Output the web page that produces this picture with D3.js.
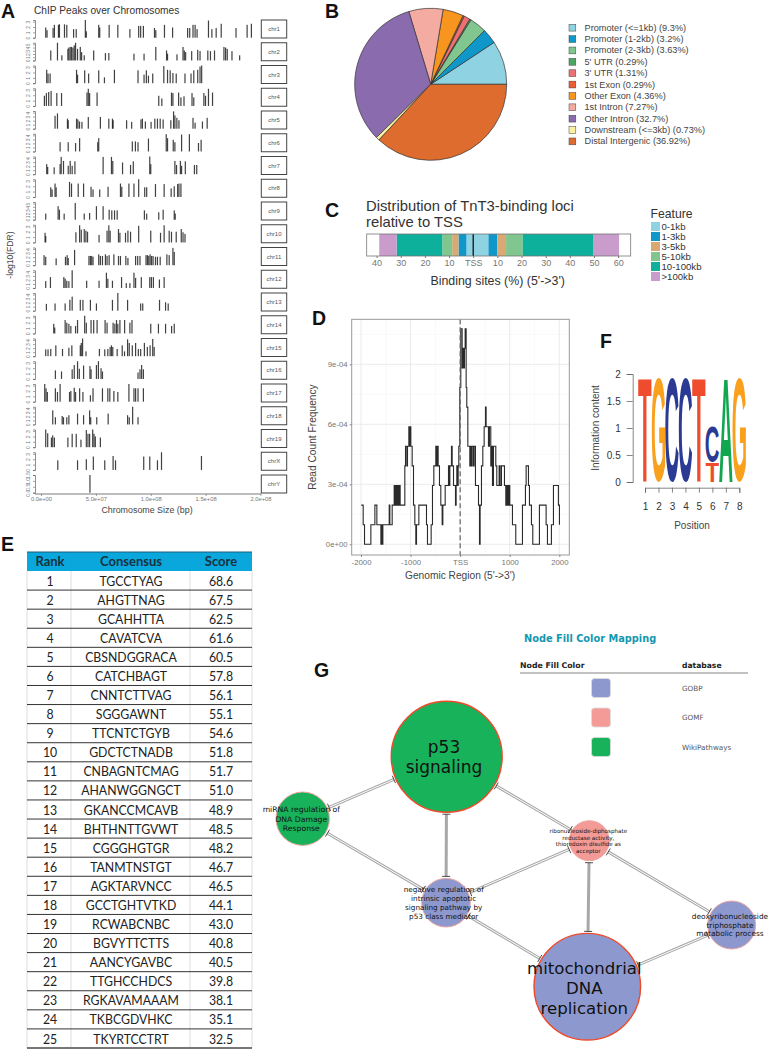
<!DOCTYPE html>
<html>
<head>
<meta charset="utf-8">
<script src="https://cdn.jsdelivr.net/npm/d3@7/dist/d3.min.js"></script>
<style>
body { margin: 0; background: #fff; }
svg, svg .tick text { font-family: "Liberation Sans", sans-serif; }
svg { display: block; }
</style>
</head>
<body>
<svg id="fig" width="768" height="1050"></svg>
<script>
// ---- panel A: peak position (Mb), -log10(FDR)
const chromNames = ["chr1","chr2","chr3","chr4","chr5","chr6","chr7","chr8","chr9","chr10","chr11","chr12","chr13","chr14","chr15","chr16","chr17","chr18","chr19","chrX","chrY"];
const chromMax = [3.3,5.5,3.3,3.3,4.4,4.4,4.4,3.3,5.5,3.3,4.4,4.4,4.4,3.3,4.4,3.3,3.3,4.4,3.3,3.3,1.5];
const sizeTicks = [0,50,100,150,200];
const sizeTickLabels = ["0.0e+00","5.0e+07","1.0e+08","1.5e+08","2.0e+08"];
const chr1Peaks = [[4.3,1.9],[5.5,1.4],[11,1.8],[12.2,2.4],[15.9,2.4],[16.8,2.5],[21.4,2.5],[23.5,2.4],[29.7,1.6],[32.1,1.6],[40.4,3.3],[41.3,1.2],[52.6,2.4],[53.5,1.9],[62.1,2.4],[70,2.4],[81,1.6],[89,2.2],[90.8,2.2],[93.3,2.2],[103.4,1.8],[104.6,1.4],[112.5,2.4],[119.9,1.9],[133.6,1.8],[135.5,1.8],[138.5,2.4],[140.4,2.4],[142.2,1.6],[152.6,3.2],[155.7,1.6],[159.6,1.8],[164.2,2.6],[177.7,1.8],[187.8,2.4],[191.7,2.6]];
const chr2Peaks = [[8.9,3.1],[15,5.5],[19,1.6],[24.5,3.6],[25.4,4],[26.6,4.2],[27.8,4.2],[29.1,4],[30.3,4.7],[31.5,5.5],[33.3,3.6],[35.8,4.2],[37,2.6],[39.4,1.6],[48,3.1],[58.7,2.3],[61.8,2.3],[84.7,2.1],[93.9,2.1],[104.6,4.2],[114.4,3.1],[115.3,2.1],[123.9,1.9],[129.4,4.2],[130.6,3.1],[131.8,2.6],[137.3,2.9],[142.8,3.3],[144.9,2.9],[152,3.1],[154.4,2.9],[158.1,3.1],[166.7,4.2],[168.2,4],[169.7,3.6],[174,2.9],[181,1.6]];
const chr3Peaks = [[5.2,2.5],[6.4,1.8],[8.3,1.8],[32.4,2.5],[33.3,1.6],[39.8,2.4],[43.4,1.8],[52.6,2.4],[57.8,1.1],[66.9,2.5],[88.4,2.4],[93.9,1.6],[96,2.4],[97.9,1.4],[101.8,1.8],[111.9,3.2],[115.3,2.5],[117.7,2.4],[120.2,1.9],[123.2,1.8],[131.2,1.8],[136.7,1.8],[139.2,2.4],[142.8,2.5],[144.9,3.1],[146.4,3.3]];
const chr4Peaks = [[3.1,1.9],[4.9,2.4],[7,2.6],[9.2,2.8],[14.4,2.4],[18.7,2.4],[41.9,2.5],[43.1,3.2],[44.3,2.4],[51.1,2.5],[107.3,1.9],[110.1,1.4],[118.9,2.5],[120.2,2.4],[125.4,2.5],[127.5,1.6],[130.3,1.8],[137.6,2.4],[139.2,1.6],[148.4,2.4],[149.9,1.9],[152.6,3.2],[156.3,2.5]];
const chr5Peaks = [[12.8,3.2],[15,3.8],[24.1,2.5],[24.8,2.1],[32.4,2.5],[33.6,2.3],[35.1,1.8],[37.3,1.7],[43.1,2.9],[54.1,2.9],[61.8,2.5],[65.1,2.5],[65.7,2.1],[78,2.1],[82.6,1.7],[91.1,2.3],[92.4,2.5],[95.1,1.8],[100.3,1.7],[103.7,2.5],[106.1,2.5],[108.6,2.5],[111.3,2.3],[118.3,2.1],[120.8,4.3],[122,3.3],[123.8,2.7],[125.7,2.1],[138.5,2.7],[140.4,1.5],[147.1,1.8],[151.4,2.7]];
const chr6Peaks = [[17.4,2.3],[24.8,2.3],[31.5,2.1],[35.2,3.3],[51.7,2.3],[52.6,3.3],[83.2,2.5],[86,2.5],[88.4,2.3],[97.9,3.2],[114.1,4.3],[115.3,3.3],[120.5,2.9],[122,2.3],[128.1,4.2],[135.2,4.3],[143.5,2.1],[145.9,2.9]];
const chr7Peaks = [[5.2,2.5],[6.1,1.8],[12,1.7],[17.4,2.5],[18.4,4.3],[20.5,3.3],[24.8,2.1],[26.6,3.3],[28.4,2.1],[30.9,3.2],[56.6,4.3],[64.2,4.3],[65.4,3.3],[74.3,2.9],[81.6,2.3],[84.1,3.2],[99.1,4.4],[100,2.5],[122,3.3],[123.5,2.3],[127,3.3],[128.1,2.1],[131.5,3.2],[139.8,2.3],[141.9,2.3]];
const chr8Peaks = [[8.9,1.8],[10.1,1.4],[12.8,2.5],[13.8,1.8],[26,2.8],[27.8,2.5],[33.9,2.5],[38.8,2.5],[45.6,1.9],[47.4,1.4],[53.5,1.4],[61.1,1.9],[72.4,2.5],[73.6,1.9],[80.1,2.5],[84.7,2.5],[89,3.3],[94.5,1.8],[96.3,1.8],[104.3,2.4],[112.2,2.4],[118.6,1.6],[121.4,2],[124.5,2.4],[125.7,2.5],[127.5,2.5]];
const chr9Peaks = [[4.3,1.9],[15.6,4.2],[16.8,3.1],[21.1,1.9],[31.2,5.2],[39.4,1.9],[44.3,2.1],[50.5,4.2],[56.6,4.2],[62.1,3.1],[64.5,2.9],[67,2.9],[69.4,2.9],[94.2,2.9],[96.3,1.9],[107.3,2.3],[111.3,3.1],[121.4,2.9],[122.3,1.9]];
const chr10Peaks = [[3.7,1.8],[4.3,1.2],[31.8,1.9],[35.2,3.2],[36.7,2.4],[39.4,2.5],[40.9,2.2],[42.4,2],[52.9,1.4],[60.2,2.2],[61.8,3.2],[63,2.2],[70.6,2.5],[71.9,1.8],[77,1.8],[79.2,2.2],[81.6,2],[89,3.1],[100,2.2],[108.9,1.8],[112.2,3.2],[116.8,2.2],[118.9,2],[123.2,2],[127.8,2.5],[129.4,1.9],[131.2,1.6]];
const chr11Peaks = [[2.8,2.5],[4.3,2.1],[13.8,1.7],[22.3,2.1],[23.8,2.5],[24.8,1.8],[30.6,3.8],[43.7,2.3],[45,2.3],[46.2,2.3],[47.4,2.1],[52.6,2.7],[54.1,2.3],[56,2.3],[58.7,2.7],[60.2,2.3],[62.1,2.5],[66.4,2.7],[70.6,2.3],[72.4,2.3],[77.3,2.3],[79.2,1.8],[86.2,2.3],[88.1,2.3],[90.2,2.3],[95.7,2.5],[97,2.5],[98.2,2.3],[99.4,2.7],[100.7,2.3],[102.1,2.3],[104.3,2.1],[106.1,2.1],[108.6,2.1],[114.7,2.7],[116.8,2.5],[120.2,4.3],[121.4,3.3]];
const chr12Peaks = [[4.3,1.7],[8.6,2.7],[20.8,2.7],[22,2.3],[23.5,1.8],[25.4,1.7],[28.4,4.4],[41.6,1.8],[52.9,1.8],[59.6,3.8],[60.9,2.3],[65.1,1.8],[73.4,2.7],[77.7,1.2],[81,1.2],[84.7,3.8],[86.2,2.5],[91.4,2.7],[99.1,2.7],[100.6,2.7],[102.4,2.7],[107.9,2.1],[112.2,2.7]];
const chr13Peaks = [[4.9,1.7],[12.8,1.8],[22,1.8],[26.3,2.7],[28.4,3.5],[35.8,2.7],[38.2,2.7],[45,2.7],[50.5,1.8],[65.1,2.7],[70,4.4],[78.9,2.7],[90.8,1.8],[92.7,1.8],[108,2.7],[113.5,2.1],[115.9,1.8]];
const chr14Peaks = [[11.6,1.8],[12.5,1.1],[22,2.5],[23.5,2],[25.4,1.8],[27.2,1.4],[31.5,1.4],[33.3,2.5],[39.8,3.3],[41.3,2],[45.6,2.5],[48,2.5],[51.1,2.5],[58.4,2.5],[60.2,2],[65.7,2],[67.3,1.8],[68.8,2.5],[70,1.8],[71.9,2.5],[76.2,2.5],[81,2],[82.9,2.5],[100,1.8],[107,1.8],[113.5,1.8],[119,1.4],[121.4,1.8]];
const chr15Peaks = [[4.3,1.7],[6.4,1.7],[8.9,1.8],[13.5,2.7],[19.6,1.8],[25.4,2.1],[28.1,2.7],[35.8,2.7],[36.7,3.3],[37.9,4.4],[41,1.2],[53.2,1.8],[58.1,1.7],[60.9,1.8],[63,2.3],[64.2,2.7],[65.4,2.3],[69.4,1.8],[74,2.7],[76.1,1.2],[78.9,4.2],[80.4,3.3],[83.2,2.7],[86.2,3.3],[88.7,1.8],[90.8,1.8],[94.2,3.3],[96.9,2.3],[99.4,2.7],[101.8,4.3],[103.1,2.3]];
const chr16Peaks = [[13.1,1.6],[18.7,1.4],[28.4,1.8],[30.3,2.6],[33.3,3.3],[34.9,1.9],[38.8,2.5],[44.6,2.4],[45.6,1.8],[50.5,2.6],[52.3,3.3],[54.7,2],[56,1.4],[88.4,1.2],[90.2,1.8],[91.7,2.6],[93.3,1.8]];
const chr17Peaks = [[3.4,3.3],[4.6,2.5],[5.8,1.8],[13.1,2.5],[15,1.8],[17.4,3.3],[26,1.8],[27.2,2],[30.3,2.6],[31.5,1.8],[35.2,2.5],[38.2,1.8],[45,1.2],[47.4,2.5],[56,2.5],[60.9,2.5],[62.7,2.5],[66.4,2],[70,1.8],[80.1,3.3],[84.7,2.5],[86.2,2.5],[88.4,2.5],[93.3,2.5]];
const chr18Peaks = [[10.7,3.5],[13.1,1.8],[19.3,2.1],[20.5,1.8],[23.5,1.8],[25.4,2.3],[33.3,2.7],[38.8,2.3],[44.3,3.5],[45.3,1.8],[50.8,1.8],[61.2,2.7],[78.9,2.3],[80.4,1.8],[83.5,4.4],[88.4,1.8]];
const chr19Peaks = [[4.3,3.3],[6.1,2.6],[9.5,1.8],[10.7,2.2],[12.2,1.8],[24.5,1.8],[28.4,2.5],[32.1,2.5],[36.4,1.4],[41.3,3.2],[42.8,2.5],[44.3,2.5],[47.1,3.3],[48.3,2.5],[49.5,2],[54.1,1.8]];
const chrXPeaks = [[15.3,1.8],[33.3,1.8],[41.3,2],[47.7,2.5],[58.1,1.8],[65.7,2.6],[67.9,1.8],[93.6,2.5],[99.1,2.5],[106.1,1.8],[109.8,3.3],[146.2,2.6]];
const chrYPeaks = [[44.6,1.5]];
const allPeaks = [chr1Peaks,chr2Peaks,chr3Peaks,chr4Peaks,chr5Peaks,chr6Peaks,chr7Peaks,chr8Peaks,chr9Peaks,chr10Peaks,chr11Peaks,chr12Peaks,chr13Peaks,chr14Peaks,chr15Peaks,chr16Peaks,chr17Peaks,chr18Peaks,chr19Peaks,chrXPeaks,chrYPeaks];

// ---- panel B
const pieLabels = ["Promoter (<=1kb) (9.3%)","Promoter (1-2kb) (3.2%)","Promoter (2-3kb) (3.63%)","5' UTR (0.29%)","3' UTR (1.31%)","1st Exon (0.29%)","Other Exon (4.36%)","1st Intron (7.27%)","Other Intron (32.7%)","Downstream (<=3kb) (0.73%)","Distal Intergenic (36.92%)"];
const pieValues = [9.3,3.2,3.63,0.29,1.31,0.29,4.36,7.27,32.7,0.73,36.92];
const pieColors = ["#8fd3e3","#0f97c9","#80c68e","#4fa564","#ef7070","#ee5c33","#f7951e","#f4aba2","#8a6bae","#fbf2a0","#dd6c2e"];

// ---- panel C: percentages outward from the TSS
const featureNames = ["0-1kb","1-3kb","3-5kb","5-10kb","10-100kb",">100kb"];
const featureColors = ["#8fd3e3","#0f97c9","#d9a873","#80c68e","#0db09b","#c99ccc"];
const upstreamPct = [2.8,3.3,2.6,4.1,18.9,7.2];
const downstreamPct = [6.3,3.7,3.6,6.9,29.1,10.8];
const tssTicks = [-40,-30,-20,-10,0,10,20,30,40,50,60];
const tssTickLabels = ["40","30","20","10","TSS","10","20","30","40","50","60"];

// ---- panel D: genomic position, reads at that position
const freqPerRead = 0.98e-4;
const coverage = [[-1996,2],[-1956,1],[-1929,0],[-1801,1],[-1720,2],[-1680,1],[-1599,0],[-1586,1],[-1572,0],[-1559,1],[-1431,2],[-1418,1],[-1371,2],[-1331,3],[-1317,2],[-1304,3],[-1290,2],[-1277,3],[-1263,2],[-1250,3],[-1236,2],[-1223,3],[-1210,2],[-1116,4],[-1102,5],[-1075,4],[-1062,5],[-1035,6],[-1021,5],[-1008,6],[-995,5],[-968,4],[-941,2],[-914,1],[-894,0],[-880,1],[-833,2],[-679,1],[-659,0],[-585,1],[-558,3],[-531,4],[-491,5],[-477,4],[-464,5],[-444,4],[-417,3],[-390,2],[-363,1],[-349,2],[-302,3],[-235,4],[-222,3],[-208,4],[-175,5],[-161,4],[-134,3],[-94,2],[-81,3],[-67,4],[-54,3],[-40,4],[-27,5],[-7,8],[13,11],[40,9],[60,10],[74,9],[87,10],[101,11],[121,8],[134,7],[155,5],[195,4],[208,5],[222,4],[242,5],[269,4],[282,5],[309,3],[370,2],[390,0],[403,2],[430,4],[457,5],[484,6],[511,7],[524,6],[571,5],[591,6],[618,4],[638,5],[652,3],[672,5],[719,4],[739,3],[786,4],[806,3],[833,4],[894,3],[921,2],[934,3],[948,2],[961,3],[974,2],[988,3],[1001,2],[1055,1],[1122,0],[1257,2],[1317,3],[1331,4],[1378,3],[1398,2],[1438,1],[1465,0],[1599,2],[1734,1],[1761,0],[1841,1],[1882,3],[1982,2],[2003,1]];
const regionTicks = [-2000,-1000,0,1000,2000];
const regionTickLabels = ["-2000","-1000","TSS","1000","2000"];
const freqTicks = [0,3e-4,6e-4,9e-4];
const freqTickLabels = ["0e+00","3e-04","6e-04","9e-04"];

// ---- panel E
const motifRanks = d3.range(1,26);
const motifConsensus = ["TGCCTYAG","AHGTTNAG","GCAHHTTA","CAVATCVA","CBSNDGGRACA","CATCHBAGT","CNNTCTTVAG","SGGGAWNT","TTCNTCTGYB","GDCTCTNADB","CNBAGNTCMAG","AHANWGGNGCT","GKANCCMCAVB","BHTHNTTGVWT","CGGGHGTGR","TANMTNSTGT","AGKTARVNCC","GCCTGHTVTKD","RCWABCNBC","BGVYTTCTTS","AANCYGAVBC","TTGHCCHDCS","RGKAVAMAAAM","TKBCGDVHKC","TKYRTCCTRT"];
const motifScores = ["68.6","67.5","62.5","61.6","60.5","57.8","56.1","55.1","54.6","51.8","51.7","51.0","48.9","48.5","48.2","46.7","46.5","44.1","43.0","40.8","40.5","39.8","38.1","35.1","32.5"];

// ---- panel F
const logoLetters = [["T"],["G"],["C"],["C"],["T"],["T","C"],["A"],["G"]];
const logoBits = [[1.92],[1.92],[1.92],[1.92],[1.92],[0.37,0.65],[1.92],[1.92]];
const logoColors = {T:"#ee4c2c", G:"#f9a11d", C:"#2b3a92", A:"#13a651"};

// ---- panel G
const netNodes = [
  {id:"p53", lines:["p53","signaling"], db:"WikiPathways"},
  {id:"mirna", lines:["miRNA regulation of","DNA Damage","Response"], db:"WikiPathways"},
  {id:"neg", lines:["negative regulation of","intrinsic apoptotic","signaling pathway by","p53 class mediator"], db:"GOBP"},
  {id:"ribo", lines:["ribonucleoside-diphosphate","reductase activity,","thioredoxin disulfide as","acceptor"], db:"GOMF"},
  {id:"deoxy", lines:["deoxyribonucleoside","triphosphate","metabolic process"], db:"GOBP"},
  {id:"mito", lines:["mitochondrial","DNA","replication"], db:"GOBP"}
];
const netEdges = [["p53","mirna"],["mirna","neg"],["p53","neg"],["neg","ribo"],["p53","ribo"],["ribo","mito"],["ribo","deoxy"],["neg","mito"],["deoxy","mito"]];
const netDatabases = ["GOBP","GOMF","WikiPathways"];
const dbColors = {GOBP:"#8d99ce", GOMF:"#f49a97", WikiPathways:"#17b25a"};

const svg = d3.select("#fig");

function panelLetter(txt, x, y){
  svg.append("text").attr("x",x).attr("y",y).text(txt)
    .style("font-weight",700).style("font-size","19.5px").attr("fill","#111");
}
panelLetter("A",1,18); panelLetter("B",325,18); panelLetter("C",325,217); panelLetter("D",312,325);
panelLetter("E",1,551); panelLetter("F",600,348); panelLetter("G",314,677);

// ---------- A
const renderPeaks = function(){
  let g = svg.append("g");
  let xScale = d3.scaleLinear().domain([0,200]).range([41,260.5]);
  g.append("text").attr("x",34).attr("y",14).text("ChIP Peaks over Chromosomes")
    .style("font-size","10.2px").attr("fill","#333");
  chromNames.forEach(function(name,i){
    let base = 37.7 + i*22.75;
    let yScale = d3.scaleLinear().domain([0,chromMax[i]]).range([base,base-17.7]);
    g.selectAll(null).data(allPeaks[i]).enter().append("rect")
      .attr("x",function(d){ return xScale(d[0])-0.6 })
      .attr("width",1.2)
      .attr("y",function(d){ return yScale(d[1]) })
      .attr("height",function(d){ return base-yScale(d[1]) })
      .attr("fill","#111").attr("fill-opacity",0.8);
    let ticks = name=="chrY" ? [0,0.5,1,1.5] : d3.range(0,Math.floor(chromMax[i])+1);
    let ax = g.append("g").attr("transform","translate(35,0)")
      .call(d3.axisLeft(yScale).tickValues(ticks).tickSize(2).tickPadding(1)
        .tickFormat(name=="chrY" ? d3.format(".1f") : d3.format("d")));
    ax.select(".domain").attr("stroke","#444").attr("stroke-width",0.6);
    ax.selectAll(".tick line").attr("stroke","#444").attr("stroke-width",0.5);
    ax.selectAll("text").attr("transform","rotate(-90)").attr("x",0).attr("y",-5.5).attr("dy",0)
      .style("text-anchor","middle").style("font-size","5px").attr("fill","#777");
    g.append("rect").attr("x",261.3).attr("y",base-17.7).attr("width",25.4).attr("height",18)
      .attr("fill","#fff").attr("stroke","#444").attr("stroke-width",1);
    g.append("text").attr("x",274).attr("y",base-6.5).attr("text-anchor","middle").text(name)
      .style("font-size","6px").attr("fill","#555");
  });
  let xax = g.append("g").attr("transform","translate(0,494)")
    .call(d3.axisBottom(xScale).tickValues(sizeTicks).tickSize(2).tickPadding(1)
      .tickFormat(function(d,i){ return sizeTickLabels[i] }));
  xax.select(".domain").remove();
  xax.selectAll(".tick line").attr("stroke","#444").attr("stroke-width",0.5);
  xax.selectAll("text").style("font-size","5.8px").attr("fill","#777");
  g.append("line").attr("x1",35).attr("x2",261).attr("y1",494).attr("y2",494).attr("stroke","#444").attr("stroke-width",0.7);
  g.append("text").attr("x",147).attr("y",513).attr("text-anchor","middle").text("Chromosome Size (bp)")
    .style("font-size","8.9px").attr("fill","#444");
  g.append("text").attr("transform","translate(13,255) rotate(-90)").attr("text-anchor","middle").text("-log10(FDR)")
    .style("font-size","8.6px").attr("fill","#444");
};

// ---------- B
const renderPie = function(){
  let g = svg.append("g").attr("transform","translate(430.7,84.3)");
  // counter-clockwise from 3 o'clock
  let pie = d3.pie().sort(null).startAngle(Math.PI/2).endAngle(Math.PI/2-2*Math.PI);
  let arc = d3.arc().innerRadius(0).outerRadius(76);
  g.selectAll("path").data(pie(pieValues)).enter().append("path")
    .attr("d",arc)
    .attr("fill",function(d,i){ return pieColors[i] })
    .attr("stroke","#333").attr("stroke-width",0.7);
  let lg = svg.append("g");
  let yScale = d3.scalePoint().domain(pieLabels).range([27.7,141.4]);
  lg.selectAll("rect").data(pieLabels).enter().append("rect")
    .attr("x",569).attr("y",function(d){ return yScale(d)-3.4 })
    .attr("width",6.8).attr("height",6.8)
    .attr("fill",function(d,i){ return pieColors[i] })
    .attr("stroke","#444").attr("stroke-width",0.5);
  lg.selectAll("text").data(pieLabels).enter().append("text")
    .attr("x",584.5).attr("y",function(d){ return yScale(d)+3 }).text(function(d){ return d })
    .style("font-size","9.2px").attr("fill","#444");
};

// ---------- C
const renderTss = function(){
  let g = svg.append("g");
  g.append("text").attr("x",366).attr("y",211).text("Distribution of TnT3-binding loci").style("font-size","14.8px").attr("fill","#333");
  g.append("text").attr("x",366).attr("y",227).text("relative to TSS").style("font-size","14.8px").attr("fill","#333");
  let xScale = d3.scaleLinear().domain([-44.1,65.2]).range([366.7,630.7]);
  let top = 234, h = 22;
  g.append("rect").attr("x",366.7).attr("y",top).attr("width",264).attr("height",h).attr("fill","#fff");
  let up = d3.cumsum(upstreamPct), down = d3.cumsum(downstreamPct);
  featureNames.forEach(function(f,i){
    let a = i==0 ? 0 : up[i-1], b = i==0 ? 0 : down[i-1];
    g.append("rect").attr("x",xScale(-up[i])).attr("y",top).attr("width",xScale(-a)-xScale(-up[i])).attr("height",h).attr("fill",featureColors[i]);
    g.append("rect").attr("x",xScale(b)).attr("y",top).attr("width",xScale(down[i])-xScale(b)).attr("height",h).attr("fill",featureColors[i]);
  });
  g.append("line").attr("x1",xScale(0)).attr("x2",xScale(0)).attr("y1",top).attr("y2",top+h).attr("stroke","#111").attr("stroke-width",1.3);
  g.append("rect").attr("x",366.7).attr("y",top).attr("width",264).attr("height",h).attr("fill","none").attr("stroke","#777").attr("stroke-width",0.8);
  let ax = g.append("g").attr("transform","translate(0,"+(top+h)+")")
    .call(d3.axisBottom(xScale).tickValues(tssTicks).tickSize(2).tickPadding(2)
      .tickFormat(function(d,i){ return tssTickLabels[i] }));
  ax.select(".domain").remove();
  ax.selectAll(".tick line").attr("stroke","#777");
  ax.selectAll("text").style("font-size","9px").attr("fill","#777");
  g.append("text").attr("x",497.7).attr("y",285).attr("text-anchor","middle").text("Binding sites (%) (5'->3')")
    .style("font-size","12.4px").attr("fill","#333");
  g.append("text").attr("x",650.5).attr("y",218).text("Feature").style("font-size","12.2px").attr("fill","#333");
  featureNames.forEach(function(f,i){
    g.append("rect").attr("x",651).attr("y",222+i*10).attr("width",9).attr("height",9).attr("fill",featureColors[i]);
    g.append("text").attr("x",661.5).attr("y",230+i*10).text(f).style("font-size","9.6px").attr("fill","#333");
  });
};

// ---------- D
const renderCoverage = function(){
  let g = svg.append("g");
  let xScale = d3.scaleLinear().domain([-2000,2000]).range([361,559.3]);
  let yScale = d3.scaleLinear().domain([0,9e-4]).range([544.3,364.3]);
  let left = 351.7, right = 569.3, top = 319.3, bottom = 555;
  d3.range(-1500,2000,1000).forEach(function(v){
    g.append("line").attr("x1",xScale(v)).attr("x2",xScale(v)).attr("y1",top).attr("y2",bottom).attr("stroke","#f2f2f2").attr("stroke-width",0.5);
  });
  [1.5e-4,4.5e-4,7.5e-4,10.5e-4].forEach(function(v){
    g.append("line").attr("x1",left).attr("x2",right).attr("y1",yScale(v)).attr("y2",yScale(v)).attr("stroke","#f2f2f2").attr("stroke-width",0.5);
  });
  regionTicks.forEach(function(v){
    g.append("line").attr("x1",xScale(v)).attr("x2",xScale(v)).attr("y1",top).attr("y2",bottom).attr("stroke","#e6e6e6").attr("stroke-width",0.8);
  });
  freqTicks.forEach(function(v){
    g.append("line").attr("x1",left).attr("x2",right).attr("y1",yScale(v)).attr("y2",yScale(v)).attr("stroke","#e6e6e6").attr("stroke-width",0.8);
  });
  let line = d3.line().curve(d3.curveStepAfter)
    .x(function(d){ return xScale(d[0]) })
    .y(function(d){ return yScale(d[1]*freqPerRead) });
  g.append("path").datum(coverage).attr("d",line).attr("fill","none").attr("stroke","#2a2a2a").attr("stroke-width",1.1);
  g.append("line").attr("x1",xScale(0)).attr("x2",xScale(0)).attr("y1",top).attr("y2",bottom)
    .attr("stroke","#666").attr("stroke-width",1.2).attr("stroke-dasharray","5,3");
  g.append("rect").attr("x",left).attr("y",top).attr("width",right-left).attr("height",bottom-top)
    .attr("fill","none").attr("stroke","#999").attr("stroke-width",1);
  let xa = g.append("g").attr("transform","translate(0,555)")
    .call(d3.axisBottom(xScale).tickValues(regionTicks).tickSize(2).tickPadding(2)
      .tickFormat(function(d,i){ return regionTickLabels[i] }));
  xa.select(".domain").remove();
  xa.selectAll(".tick line").attr("stroke","#888");
  xa.selectAll("text").style("font-size","7.8px").attr("fill","#777");
  let ya = g.append("g").attr("transform","translate(351.7,0)")
    .call(d3.axisLeft(yScale).tickValues(freqTicks).tickSize(2).tickPadding(2)
      .tickFormat(function(d,i){ return freqTickLabels[i] }));
  ya.select(".domain").remove();
  ya.selectAll(".tick line").attr("stroke","#888");
  ya.selectAll("text").style("font-size","7.8px").attr("fill","#777");
  g.append("text").attr("x",460).attr("y",579).attr("text-anchor","middle").text("Genomic Region (5'->3')")
    .style("font-size","10.2px").attr("fill","#444");
  g.append("text").attr("transform","translate(316,437) rotate(-90)").attr("text-anchor","middle").text("Read Count Frequency")
    .style("font-size","10.2px").attr("fill","#444");
};

// ---------- E
const renderTable = function(){
  let g = svg.append("g").style("font-family","Lato");
  let left = 27, right = 252, headTop = 552, headBottom = 571, rowH = 19.08;
  let rowY = d3.scaleBand().domain(motifRanks).range([headBottom,headBottom+25*rowH]);
  g.append("rect").attr("x",left).attr("y",headTop).attr("width",right-left).attr("height",headBottom-headTop).attr("fill","#0aa7dd");
  g.append("line").attr("x1",left).attr("x2",right).attr("y1",headTop).attr("y2",headTop).attr("stroke","#1c5f7a").attr("stroke-width",1);
  [["Rank",50],["Consensus",131],["Score",221]].forEach(function(c){
    g.append("text").attr("x",c[1]).attr("y",headBottom-5).attr("text-anchor","middle").text(c[0])
      .style("font-size","13px").style("font-weight",700).attr("fill","#17313e");
  });
  [left,71,190,right].forEach(function(x){
    g.append("line").attr("x1",x).attr("x2",x).attr("y1",headBottom).attr("y2",1048).attr("stroke","#d4d4d4").attr("stroke-width",0.8);
  });
  motifRanks.forEach(function(r,i){
    let y = rowY(r);
    g.append("line").attr("x1",left).attr("x2",right).attr("y1",y+rowH).attr("y2",y+rowH)
      .attr("stroke",i==24 ? "#777" : "#333").attr("stroke-width",i==24 ? 2 : 1);
    [[r,50],[motifConsensus[i],131],[motifScores[i],221]].forEach(function(c){
      // Lato runs wider than the table's font, so squeeze it a little
      g.append("text").attr("transform","translate("+c[1]+","+(y+14.6)+") scale(0.93,1)").attr("text-anchor","middle").text(c[0])
        .style("font-size","13.2px").attr("fill","#222");
    });
  });
};

// ---------- F
const renderLogo = function(){
  let g = svg.append("g");
  let xScale = d3.scalePoint().domain(d3.range(1,9)).range([645,739.3]);
  let yScale = d3.scaleLinear().domain([0,2]).range([482,374]);
  let ctx = document.createElement("canvas").getContext("2d");
  ctx.font = "bold 100px 'Liberation Sans'";
  let letterW = 13.4;
  logoLetters.forEach(function(col,i){
    let acc = 0;
    col.forEach(function(ch,j){
      let m = ctx.measureText(ch);
      let inkW = m.actualBoundingBoxLeft + m.actualBoundingBoxRight;
      let inkH = m.actualBoundingBoxAscent + m.actualBoundingBoxDescent;
      let y0 = yScale(acc), y1 = yScale(acc+logoBits[i][j]);
      let sx = letterW/inkW, sy = (y0-y1)/inkH;
      let cx = xScale(i+1) - letterW/2;
      g.append("text")
        .attr("transform","translate("+(cx+m.actualBoundingBoxLeft*sx)+","+(y0-m.actualBoundingBoxDescent*sy)+") scale("+sx+","+sy+")")
        .text(ch).style("font-size","100px").style("font-weight",700).attr("fill",logoColors[ch]);
      acc += logoBits[i][j];
    });
  });
  let ya = g.append("g").attr("transform","translate(632.7,0)")
    .call(d3.axisLeft(yScale).tickValues([0,0.5,1,1.5,2]).tickSize(6).tickPadding(6).tickFormat(d3.format("")));
  ya.selectAll("path,line").attr("stroke","#666").attr("stroke-width",0.8);
  ya.selectAll("text").style("font-size","10px").attr("fill","#333");
  let xa = g.append("g").attr("transform","translate(0,487.7)")
    .call(d3.axisBottom(xScale).tickSize(5).tickPadding(10).tickFormat(d3.format("d")));
  xa.selectAll("path,line").attr("stroke","#666").attr("stroke-width",0.8);
  xa.selectAll("text").style("font-size","10px").attr("fill","#333");
  g.append("text").attr("x",692).attr("y",529).attr("text-anchor","middle").text("Position").style("font-size","10px").attr("fill","#444");
  g.append("text").attr("transform","translate(599,428) rotate(-90)").attr("text-anchor","middle").text("Information content").style("font-size","10px").attr("fill","#444");
};

// ---------- G
const renderNetwork = function(){
  let g = svg.append("g").style("font-family","'DejaVu Sans'");
  // placement and label size of the nodes on the page
  let layout = {
    p53:{x:446.7,y:756.7,r:55.5,tx:444,ty:757,fs:17,lh:20.7,big:true},
    mirna:{x:302.7,y:818.7,r:26.7,tx:301.3,ty:819,fs:7.7,lh:9.4},
    neg:{x:446,y:902.7,r:24.3,tx:443.7,ty:903.3,fs:7.25,lh:8.9},
    ribo:{x:589.3,y:840.7,r:20,tx:588.3,ty:841,fs:5.6,lh:6.8},
    deoxy:{x:731.7,y:925,r:24,tx:730,ty:925,fs:7.4,lh:8.9},
    mito:{x:587.3,y:986.7,r:53.3,tx:584.3,ty:988,fs:16.6,lh:20,big:true}
  };
  netEdges.forEach(function(e){
    let a = layout[e[0]], b = layout[e[1]];
    let dx = b.x-a.x, dy = b.y-a.y, len = Math.hypot(dx,dy), ux = dx/len, uy = dy/len;
    let x1 = a.x+ux*(a.r+2), y1 = a.y+uy*(a.r+2), x2 = b.x-ux*(b.r+2), y2 = b.y-uy*(b.r+2);
    g.append("line").attr("x1",x1).attr("y1",y1).attr("x2",x2).attr("y2",y2).attr("stroke","#a8a8a8").attr("stroke-width",3);
    if(Math.abs(dx)>10){
      g.append("line").attr("x1",x1).attr("y1",y1).attr("x2",x2).attr("y2",y2).attr("stroke","#fff").attr("stroke-width",1);
    }
    [[x1,y1],[x2,y2]].forEach(function(p){
      g.append("line").attr("x1",p[0]-uy*4).attr("y1",p[1]+ux*4).attr("x2",p[0]+uy*4).attr("y2",p[1]-ux*4)
        .attr("stroke","#222").attr("stroke-width",0.8);
    });
  });
  g.selectAll("circle").data(netNodes).enter().append("circle")
    .attr("cx",function(d){ return layout[d.id].x })
    .attr("cy",function(d){ return layout[d.id].y })
    .attr("r",function(d){ return layout[d.id].r })
    .attr("fill",function(d){ return dbColors[d.db] })
    .attr("stroke",function(d){ return layout[d.id].big ? "#ee4a2a" : "#eea5a0" })
    .attr("stroke-width",function(d){ return layout[d.id].big ? 1.4 : 1 });
  netNodes.forEach(function(n){
    let p = layout[n.id], off = (n.lines.length-1)/2;
    n.lines.forEach(function(t,i){
      g.append("text").attr("x",p.tx).attr("y",p.ty+(i-off)*p.lh+p.fs*0.35).attr("text-anchor","middle").text(t)
        .style("font-size",p.fs+"px").attr("fill","#111");
    });
  });
  // legend
  g.append("text").attr("x",524).attr("y",642).text("Node Fill Color Mapping")
    .style("font-size","9.8px").style("font-weight",700).attr("fill","#1398b0");
  g.append("text").attr("x",520).attr("y",667.5).text("Node Fill Color").style("font-size","7.8px").style("font-weight",700).attr("fill","#222");
  g.append("text").attr("x",682).attr("y",667.5).text("database").style("font-size","7.6px").style("font-weight",700).attr("fill","#222");
  g.append("line").attr("x1",520).attr("x2",748).attr("y1",673).attr("y2",673).attr("stroke","#666").attr("stroke-width",0.8);
  netDatabases.forEach(function(db,i){
    let y = 688 + i*29.5;
    g.append("rect").attr("x",591.5).attr("y",y-9.5).attr("width",19).attr("height",19).attr("rx",3)
      .attr("fill",dbColors[db]).attr("stroke","#ddd").attr("stroke-width",0.8);
    g.append("text").attr("x",682).attr("y",y+2.5).text(db).style("font-size","7.2px").attr("fill","#555");
  });
};

renderPeaks();
renderPie();
renderTss();
renderCoverage();
renderTable();
renderLogo();
renderNetwork();
</script>
</body>
</html>
